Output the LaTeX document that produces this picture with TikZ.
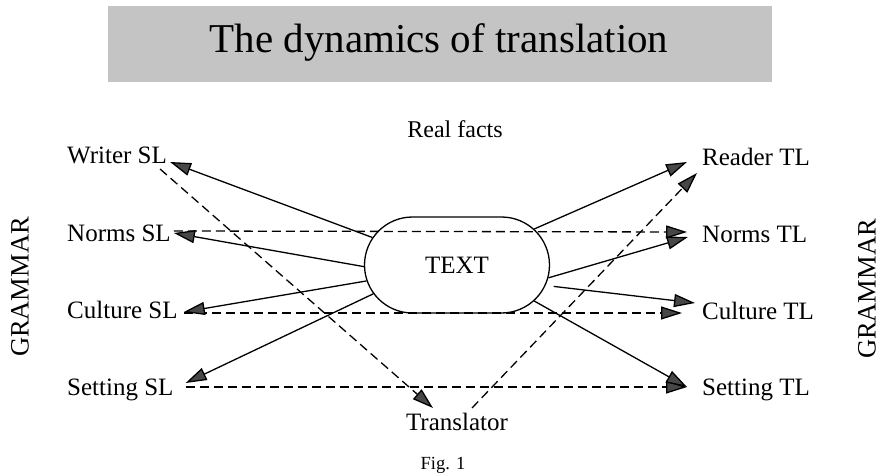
\documentclass[tikz,border=0pt]{standalone}
\usepackage{fontspec}
\setmainfont{Liberation Serif}
\usetikzlibrary{arrows.meta,shapes.misc,calc}
\definecolor{headgray}{gray}{0.28}
\definecolor{titlegray}{RGB}{196,196,196}
\begin{document}
\begin{tikzpicture}[x=1pt,y=-1pt,
  lbl/.style={inner sep=0pt, font=\fontsize{25}{30}\selectfont},
  conn/.style={line width=1.3pt, -{Triangle[length=21pt,width=13pt,fill=headgray]}},
  dconn/.style={conn, dash pattern=on 9pt off 5pt},
]
\useasboundingbox (0,0) rectangle (881,476);
% title
\node[fill=titlegray, minimum width=664pt, minimum height=76pt, inner sep=0pt, anchor=north west] (tbox) at (108,6) {};
\node[font=\fontsize{41}{48}\selectfont, inner sep=0pt, anchor=base] (ttl) at (439,53) {The dynamics of translation};
% labels
\node[lbl, font=\fontsize{24}{28}\selectfont, anchor=base] (rf) at (455,138) {Real facts};
\node[lbl, anchor=base west] (wsl) at (67,164) {Writer SL};
\node[lbl, anchor=base west] (nsl) at (67,241) {Norms SL};
\node[lbl, anchor=base west] (csl) at (67,318) {Culture SL};
\node[lbl, anchor=base west] (ssl) at (67,395) {Setting SL};
\node[lbl, anchor=base west] (rtl) at (702,165) {Reader TL};
\node[lbl, anchor=base west] (ntl) at (702,242) {Norms TL};
\node[lbl, anchor=base west] (ctl) at (702,319) {Culture TL};
\node[lbl, anchor=base west] (stl) at (702,395) {Setting TL};
\node[lbl, anchor=base] (tr) at (457,430) {Translator};
\node[lbl, font=\fontsize{26.5}{30}\selectfont, rotate=90] (gl) at (20,287) {GRAMMAR};
\node[lbl, font=\fontsize{26.5}{30}\selectfont, rotate=90] (gr) at (867,289) {GRAMMAR};
\node[inner sep=0pt, font=\fontsize{18.5}{22}\selectfont, anchor=base] (fig) at (443,469) {Fig. 1};
\node[lbl, draw, rounded rectangle, line width=1.3pt, minimum width=185pt, minimum height=96pt] (txt) at (457,265) {TEXT};
% dashed connectors
\draw[dconn] ($(nsl.base east)+(3,-10)$) -- ($(ntl.base west)+(-15,-10)$);
\draw[dconn] ($(csl.base east)+(6,-5)$) -- ($(ctl.base west)+(-20,-6)$);
\draw[dconn] ($(ssl.base east)+(12,-8)$) -- ($(stl.base west)+(-15,-8)$);
\draw[dconn] ($(wsl.base east)+(-7,5)$) -- ($(tr.base)+(-24,-22)$);
\draw[dconn] ($(tr.base)+(15,-22)$) -- ($(rtl.base west)+(-5,8)$);
% solid connectors
\draw[conn] (txt.162) -- ($(wsl.base east)+(3,-2)$);
\draw[conn] (txt.181) -- ($(nsl.base east)+(3,-8)$);
\draw[conn] (txt.190) -- ($(csl.base east)+(6,-6)$);
\draw[conn] (txt.199) -- ($(ssl.base east)+(12,-12)$);
\draw[conn] (txt.25) -- ($(rtl.base west)+(-15,-3)$);
\draw[conn] (txt.352) -- ($(ntl.base west)+(-14,-5)$);
\draw[conn, shorten <=8pt] (txt.347) -- ($(ctl.base west)+(-7,-16)$);
\draw[conn] (txt.335) -- ($(stl.base west)+(-15,-8)$);
\end{tikzpicture}
\end{document}
